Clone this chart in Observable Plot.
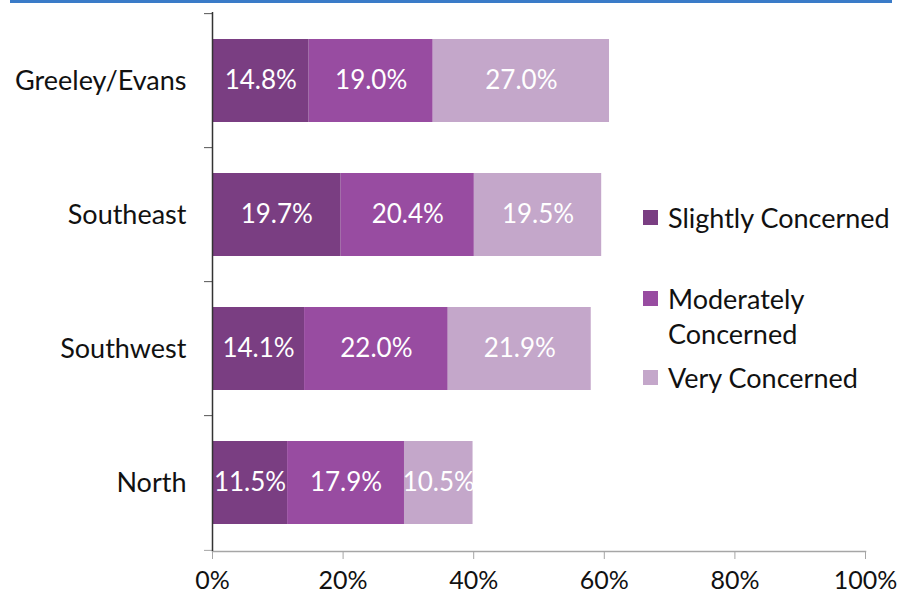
<!DOCTYPE html>
<html>
<head>
<meta charset="utf-8">
<script src="https://cdn.jsdelivr.net/npm/d3@7"></script>
<script src="https://cdn.jsdelivr.net/npm/@observablehq/plot@0.6"></script>
<style>
  body { margin: 0; background: white; }
  #wrap { position: relative; width: 898px; height: 601px; overflow: hidden; font-family: Lato, "Open Sans", sans-serif; }
  #topline { position: absolute; left: 10px; top: 0; width: 882px; height: 3px; background: #3a7bc8; }
  .lg { position: absolute; left: 643px; font-size: 27px; line-height: 35px; color: #111; }
  .lg .sw { position: absolute; left: 0; top: 10px; width: 15px; height: 15px; }
  .lg .tx { margin-left: 25px; white-space: nowrap; }
</style>
</head>
<body>
<div id="wrap">
  <div id="chart"></div>
  <div id="topline"></div>
  <div id="legend"></div>
</div>
<script>
const categories = ["Greeley/Evans", "Southeast", "Southwest", "North"];
const series = ["Slightly Concerned", "Moderately Concerned", "Very Concerned"];
const legendLines = [["Slightly Concerned"], ["Moderately", "Concerned"], ["Very Concerned"]];
const slightly = [14.8, 19.7, 14.1, 11.5];
const moderately = [19.0, 20.4, 22.0, 17.9];
const very = [27.0, 19.5, 21.9, 10.5];
const xTicks = [0, 20, 40, 60, 80, 100];
const colors = ["#7a3e82", "#984ca1", "#c4a7ca"];

const values = [slightly, moderately, very];
const data = [];
categories.forEach((region, i) => {
  series.forEach((s, j) => data.push({region, series: s, value: values[j][i]}));
});

const W = 898, H = 601, mt = 12, mb = 50, ml = 212, mr = 33;
const step = (H - mt - mb) / categories.length;

const chart = Plot.plot({
  width: W, height: H,
  marginTop: mt, marginBottom: mb, marginLeft: ml, marginRight: mr,
  style: {fontFamily: "Lato, 'Open Sans', sans-serif", background: "white", color: "#111"},
  x: {domain: [0, 100]},
  y: {domain: categories, paddingInner: 0.38, paddingOuter: 0.19},
  color: {domain: series, range: colors},
  marks: [
    Plot.barX(data, Plot.stackX({x: "value", y: "region", fill: "series"})),
    Plot.textX(data, Plot.stackX({x: "value", y: "region", z: "series",
      text: d => d.value.toFixed(1) + "%", fill: "white", fontSize: 26})),
    Plot.frame({anchor: "bottom", stroke: "#a6a6a6", strokeWidth: 1.5}),
    Plot.axisX({ticks: xTicks, tickFormat: d => d + "%", tickSize: 8, tickPadding: 12,
      fontSize: 25, stroke: "#a6a6a6", fill: "#111", label: null}),
    Plot.axisY({tickSize: 0, tickPadding: 26, fontSize: 27, fill: "#111", label: null}),
    Plot.axisY({ticks: categories, tickSize: 8, text: null, dy: -step / 2, stroke: "#555", label: null}),
    Plot.axisY({ticks: [categories[categories.length - 1]], tickSize: 8, text: null, dy: step / 2, stroke: "#a6a6a6", label: null}),
    Plot.ruleX([0], {stroke: "#333", strokeWidth: 1.5})
  ]
});
document.getElementById("chart").appendChild(chart);

const tops = [199.5, 280.5, 359.5];
const legend = document.getElementById("legend");
legendLines.forEach((lines, i) => {
  const div = document.createElement("div");
  div.className = "lg";
  div.style.top = tops[i] + "px";
  const sw = document.createElement("div");
  sw.className = "sw";
  sw.style.background = colors[i];
  div.appendChild(sw);
  const tx = document.createElement("div");
  tx.className = "tx";
  tx.innerHTML = lines.join("<br>");
  div.appendChild(tx);
  legend.appendChild(div);
});
</script>
</body>
</html>
